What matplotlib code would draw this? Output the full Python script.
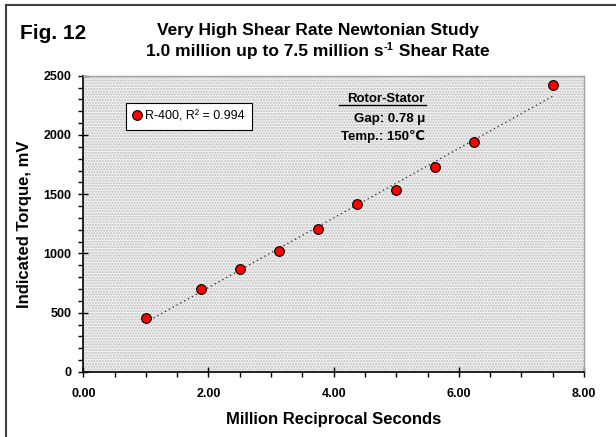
import numpy as np
import matplotlib
matplotlib.use("Agg")
import matplotlib.pyplot as plt
from matplotlib.patches import Rectangle
from matplotlib.ticker import MultipleLocator, FormatStrFormatter

plt.rcParams['font.family'] = ['Liberation Sans', 'DejaVu Sans']

# data
shear = [1.0, 1.875, 2.5, 3.125, 3.75, 4.375, 5.0, 5.625, 6.25, 7.5]
torque = [458, 701, 866, 1021, 1206, 1414, 1535, 1726, 1942, 2422]
series_label = "R-400, R² = 0.994"

fig = plt.figure(figsize=(6.16, 4.37), dpi=100)
W, H = 616, 437
ax = fig.add_axes([83.3 / W, (H - 372) / H, (584 - 83.3) / W, (372 - 75.7) / H])

# outer frame (top and left edges visible)
fig.patches.append(Rectangle((6 / W, -0.1), 1.2, (H - 5) / H + 0.1, transform=fig.transFigure,
                             fill=False, edgecolor='#404040', linewidth=1.5))

# dotted gray plot area
ax.set_facecolor('#f2f2f2')
ax.add_patch(Rectangle((0, 0), 1, 1, transform=ax.transAxes, facecolor='none',
                       edgecolor='#bdbdbd', hatch='......', linewidth=0, zorder=0))

# linear trend line
coef = np.polyfit(shear, torque, 1)
xs = np.array([min(shear), max(shear)])
ax.plot(xs, np.polyval(coef, xs), linestyle=(0, (1, 2.5)), color='#202020', linewidth=0.9, zorder=2)

ax.plot(shear, torque, linestyle='none', marker='o', markersize=7, markerfacecolor='#ff0000',
        markeredgecolor='black', markeredgewidth=0.8, label=series_label, zorder=3)

ax.set_xlim(0, 8)
ax.set_ylim(0, 2500)
ax.xaxis.set_major_locator(MultipleLocator(2))
ax.xaxis.set_minor_locator(MultipleLocator(0.5))
ax.yaxis.set_major_locator(MultipleLocator(500))
ax.yaxis.set_minor_locator(MultipleLocator(100))
ax.xaxis.set_major_formatter(FormatStrFormatter('%.2f'))
ax.tick_params(which='major', direction='inout', length=7, width=1, labelsize=9, pad=5)
ax.tick_params(axis='x', which='major', pad=8)
ax.tick_params(which='minor', direction='out', length=3.5, width=1)
for lab in ax.get_xticklabels() + ax.get_yticklabels():
    lab.set_fontweight('bold')

for s in ['left', 'bottom']:
    ax.spines[s].set_color('black')
    ax.spines[s].set_linewidth(1.2)
for s in ['top', 'right']:
    ax.spines[s].set_color('#a0a0a0')
    ax.spines[s].set_linewidth(1.0)

ax.set_xlabel('Million Reciprocal Seconds', fontsize=12, fontweight='bold', labelpad=9)
ax.set_ylabel('Indicated Torque, mV', fontsize=12, fontweight='bold', labelpad=8)

leg = ax.legend(loc='upper left', bbox_to_anchor=(0.085, 0.907), borderaxespad=0,
                fancybox=False, framealpha=1, edgecolor='black', fontsize=9,
                handlelength=0.6, handletextpad=0.3, borderpad=0.6)
leg.get_frame().set_linewidth(0.8)

# titles
fig.text(20 / W, 1 - 39 / H, 'Fig. 12', fontsize=15, fontweight='bold', ha='left', va='baseline')
title_cx = 318 / W
fig.text(title_cx, 1 - 35 / H, 'Very High Shear Rate Newtonian Study', fontsize=12.5,
         fontweight='bold', ha='center', va='baseline')

# second title line with a superscript, assembled from three pieces
renderer = fig.canvas.get_renderer()
parts = [('1.0 million up to 7.5 million s', 12.5, 0), ('-1', 8, 6), (' Shear Rate', 12.5, 0)]
texts = []
for s, size, rise in parts:
    t = fig.text(0, 1 - (56 - rise) / H, s, fontsize=size, fontweight='bold', ha='left', va='baseline')
    texts.append(t)
widths = [t.get_window_extent(renderer).width for t in texts]
x0 = title_cx * W - sum(widths) / 2
for t, w in zip(texts, widths):
    t.set_x(x0 / W)
    x0 += w

# annotation
ann_x = 425 / W
fig.text(ann_x, 1 - 102 / H, 'Rotor-Stator', fontsize=9.5, fontweight='bold', ha='right', va='baseline')
fig.add_artist(plt.Line2D([339 / W, 426 / W], [1 - 104.5 / H, 1 - 104.5 / H], color='black', linewidth=1))
fig.text(ann_x, 1 - 122 / H, 'Gap: 0.78 μ', fontsize=9.5, fontweight='bold', ha='right', va='baseline')
fig.text(ann_x, 1 - 140 / H, 'Temp.: 150℃', fontsize=9.5, fontweight='bold', ha='right', va='baseline')

fig.savefig('out.png', dpi=100)
